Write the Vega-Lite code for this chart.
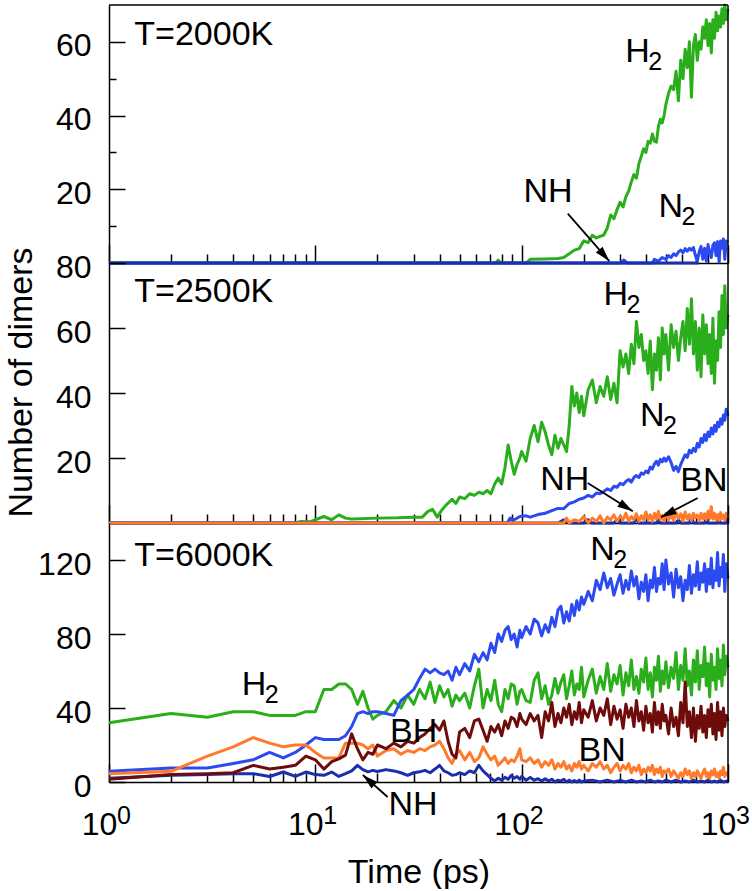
{
"$schema": "https://vega.github.io/schema/vega-lite/v6.json",
"background": "white",
"padding": {"left": 3, "top": 3, "right": 0, "bottom": 0},
"spacing": 0,
"bounds": "flush",
"resolve": {"scale": {"x": "independent", "y": "independent"}},
"config": {
  "font": "Liberation Sans",
  "view": {"stroke": null},
  "axis": {"grid": false, "domainColor": "black", "domainWidth": 1.5, "tickColor": "black", "tickWidth": 1.5, "labelColor": "black", "labelFont": "Liberation Sans", "labelFontSize": 32, "titleFont": "Liberation Sans", "titleFontSize": 34, "titleFontWeight": "normal", "titleColor": "black", "labelOverlap": false, "labelFlush": false, "labelBound": false},
  "text": {"font": "Liberation Sans"}
},
"datasets": {
"lines": [
{"p":1,"s":"H2","t":1,"v":0},{"p":1,"s":"H2","t":75,"v":0},{"p":1,"s":"H2","t":77,"v":0.8},{"p":1,"s":"H2","t":79,"v":0},{"p":1,"s":"H2","t":105,"v":0},{"p":1,"s":"H2","t":110,"v":1},{"p":1,"s":"H2","t":130,"v":1.1},{"p":1,"s":"H2","t":150,"v":1.2},{"p":1,"s":"H2","t":160,"v":1.5},{"p":1,"s":"H2","t":170,"v":2.5},{"p":1,"s":"H2","t":180,"v":3.5},{"p":1,"s":"H2","t":190,"v":3.9},{"p":1,"s":"H2","t":200,"v":6},{"p":1,"s":"H2","t":210,"v":5.5},{"p":1,"s":"H2","t":220,"v":7.5},{"p":1,"s":"H2","t":230,"v":6.8},{"p":1,"s":"H2","t":240,"v":7.2},{"p":1,"s":"H2","t":250,"v":7.6},{"p":1,"s":"H2","t":260,"v":9.5},{"p":1,"s":"H2","t":270,"v":13},{"p":1,"s":"H2","t":280,"v":12},{"p":1,"s":"H2","t":290,"v":14.5},{"p":1,"s":"H2","t":300,"v":16.5},{"p":1,"s":"H2","t":310,"v":15.2},{"p":1,"s":"H2","t":320,"v":18},{"p":1,"s":"H2","t":330,"v":19.5},{"p":1,"s":"H2","t":340,"v":22},{"p":1,"s":"H2","t":350,"v":24},{"p":1,"s":"H2","t":360,"v":23},{"p":1,"s":"H2","t":370,"v":27},{"p":1,"s":"H2","t":380,"v":29},{"p":1,"s":"H2","t":390,"v":31},{"p":1,"s":"H2","t":400,"v":30},{"p":1,"s":"H2","t":410,"v":33},{"p":1,"s":"H2","t":420,"v":32.5},{"p":1,"s":"H2","t":430,"v":35},{"p":1,"s":"H2","t":440,"v":33},{"p":1,"s":"H2","t":450,"v":32.8},{"p":1,"s":"H2","t":460,"v":37},{"p":1,"s":"H2","t":470,"v":39},{"p":1,"s":"H2","t":480,"v":38},{"p":1,"s":"H2","t":490,"v":40},{"p":1,"s":"H2","t":500,"v":43},{"p":1,"s":"H2","t":515,"v":46},{"p":1,"s":"H2","t":530,"v":48},{"p":1,"s":"H2","t":545,"v":47},{"p":1,"s":"H2","t":560,"v":52},{"p":1,"s":"H2","t":575,"v":44},{"p":1,"s":"H2","t":590,"v":55},{"p":1,"s":"H2","t":605,"v":50},{"p":1,"s":"H2","t":620,"v":58},{"p":1,"s":"H2","t":635,"v":53},{"p":1,"s":"H2","t":650,"v":60},{"p":1,"s":"H2","t":665,"v":45},{"p":1,"s":"H2","t":680,"v":59},{"p":1,"s":"H2","t":695,"v":62},{"p":1,"s":"H2","t":710,"v":55},{"p":1,"s":"H2","t":725,"v":60},{"p":1,"s":"H2","t":740,"v":58},{"p":1,"s":"H2","t":755,"v":64},{"p":1,"s":"H2","t":770,"v":61},{"p":1,"s":"H2","t":785,"v":66},{"p":1,"s":"H2","t":800,"v":59},{"p":1,"s":"H2","t":815,"v":65},{"p":1,"s":"H2","t":830,"v":57},{"p":1,"s":"H2","t":845,"v":66},{"p":1,"s":"H2","t":860,"v":61},{"p":1,"s":"H2","t":875,"v":68},{"p":1,"s":"H2","t":890,"v":63},{"p":1,"s":"H2","t":905,"v":67},{"p":1,"s":"H2","t":920,"v":64},{"p":1,"s":"H2","t":935,"v":69},{"p":1,"s":"H2","t":950,"v":65},{"p":1,"s":"H2","t":965,"v":70},{"p":1,"s":"H2","t":980,"v":66},{"p":1,"s":"H2","t":1000,"v":69},
{"p":1,"s":"N2","t":1,"v":0},{"p":1,"s":"N2","t":300,"v":0},{"p":1,"s":"N2","t":313,"v":0.8},{"p":1,"s":"N2","t":325,"v":0},{"p":1,"s":"N2","t":430,"v":0},{"p":1,"s":"N2","t":440,"v":1},{"p":1,"s":"N2","t":460,"v":0.5},{"p":1,"s":"N2","t":480,"v":1.5},{"p":1,"s":"N2","t":500,"v":1},{"p":1,"s":"N2","t":515,"v":2},{"p":1,"s":"N2","t":530,"v":1.5},{"p":1,"s":"N2","t":545,"v":2.5},{"p":1,"s":"N2","t":560,"v":2},{"p":1,"s":"N2","t":575,"v":3},{"p":1,"s":"N2","t":590,"v":3.5},{"p":1,"s":"N2","t":605,"v":2.8},{"p":1,"s":"N2","t":620,"v":3.9},{"p":1,"s":"N2","t":635,"v":3.2},{"p":1,"s":"N2","t":650,"v":4},{"p":1,"s":"N2","t":665,"v":3.5},{"p":1,"s":"N2","t":680,"v":4.2},{"p":1,"s":"N2","t":695,"v":2},{"p":1,"s":"N2","t":710,"v":0.5},{"p":1,"s":"N2","t":725,"v":3},{"p":1,"s":"N2","t":740,"v":4.5},{"p":1,"s":"N2","t":755,"v":1},{"p":1,"s":"N2","t":770,"v":4},{"p":1,"s":"N2","t":785,"v":0.5},{"p":1,"s":"N2","t":800,"v":5},{"p":1,"s":"N2","t":815,"v":3},{"p":1,"s":"N2","t":830,"v":1.5},{"p":1,"s":"N2","t":845,"v":4.8},{"p":1,"s":"N2","t":860,"v":5.5},{"p":1,"s":"N2","t":875,"v":2},{"p":1,"s":"N2","t":890,"v":5.8},{"p":1,"s":"N2","t":905,"v":0.3},{"p":1,"s":"N2","t":920,"v":6},{"p":1,"s":"N2","t":935,"v":4},{"p":1,"s":"N2","t":950,"v":6.5},{"p":1,"s":"N2","t":965,"v":1},{"p":1,"s":"N2","t":980,"v":6},{"p":1,"s":"N2","t":1000,"v":5.5},
{"p":1,"s":"NH","t":1,"v":0},{"p":1,"s":"NH","t":720,"v":0},
{"p":2,"s":"H2","t":1,"v":0},{"p":2,"s":"H2","t":8,"v":0},{"p":2,"s":"H2","t":8.5,"v":0.5},{"p":2,"s":"H2","t":9.5,"v":0.4},{"p":2,"s":"H2","t":10,"v":1},{"p":2,"s":"H2","t":11,"v":2},{"p":2,"s":"H2","t":12,"v":1},{"p":2,"s":"H2","t":13,"v":2.5},{"p":2,"s":"H2","t":14,"v":1.5},{"p":2,"s":"H2","t":15,"v":1.2},{"p":2,"s":"H2","t":20,"v":1.5},{"p":2,"s":"H2","t":25,"v":1.6},{"p":2,"s":"H2","t":30,"v":1.8},{"p":2,"s":"H2","t":33,"v":1.8},{"p":2,"s":"H2","t":35,"v":3.5},{"p":2,"s":"H2","t":37,"v":4.2},{"p":2,"s":"H2","t":39,"v":1.8},{"p":2,"s":"H2","t":41,"v":4},{"p":2,"s":"H2","t":43,"v":5.5},{"p":2,"s":"H2","t":46,"v":7.3},{"p":2,"s":"H2","t":48,"v":6},{"p":2,"s":"H2","t":50,"v":8},{"p":2,"s":"H2","t":53,"v":7.5},{"p":2,"s":"H2","t":56,"v":9},{"p":2,"s":"H2","t":59,"v":8.5},{"p":2,"s":"H2","t":62,"v":9.5},{"p":2,"s":"H2","t":65,"v":9},{"p":2,"s":"H2","t":68,"v":10},{"p":2,"s":"H2","t":71,"v":9},{"p":2,"s":"H2","t":74,"v":12},{"p":2,"s":"H2","t":77,"v":13.8},{"p":2,"s":"H2","t":80,"v":12},{"p":2,"s":"H2","t":83,"v":17},{"p":2,"s":"H2","t":86,"v":24},{"p":2,"s":"H2","t":89,"v":19},{"p":2,"s":"H2","t":92,"v":15},{"p":2,"s":"H2","t":95,"v":18},{"p":2,"s":"H2","t":98,"v":20},{"p":2,"s":"H2","t":100,"v":22},{"p":2,"s":"H2","t":105,"v":19},{"p":2,"s":"H2","t":110,"v":26},{"p":2,"s":"H2","t":115,"v":30},{"p":2,"s":"H2","t":120,"v":25},{"p":2,"s":"H2","t":125,"v":31},{"p":2,"s":"H2","t":130,"v":28},{"p":2,"s":"H2","t":135,"v":24},{"p":2,"s":"H2","t":140,"v":21},{"p":2,"s":"H2","t":145,"v":27},{"p":2,"s":"H2","t":150,"v":23},{"p":2,"s":"H2","t":155,"v":26},{"p":2,"s":"H2","t":160,"v":24},{"p":2,"s":"H2","t":165,"v":22},{"p":2,"s":"H2","t":170,"v":30},{"p":2,"s":"H2","t":175,"v":42},{"p":2,"s":"H2","t":180,"v":36},{"p":2,"s":"H2","t":185,"v":40},{"p":2,"s":"H2","t":190,"v":34},{"p":2,"s":"H2","t":195,"v":39},{"p":2,"s":"H2","t":200,"v":33},{"p":2,"s":"H2","t":210,"v":41},{"p":2,"s":"H2","t":220,"v":44},{"p":2,"s":"H2","t":230,"v":37},{"p":2,"s":"H2","t":240,"v":42},{"p":2,"s":"H2","t":250,"v":39},{"p":2,"s":"H2","t":260,"v":45},{"p":2,"s":"H2","t":270,"v":38},{"p":2,"s":"H2","t":280,"v":43},{"p":2,"s":"H2","t":290,"v":37},{"p":2,"s":"H2","t":300,"v":53},{"p":2,"s":"H2","t":310,"v":48},{"p":2,"s":"H2","t":320,"v":52},{"p":2,"s":"H2","t":330,"v":46},{"p":2,"s":"H2","t":340,"v":55},{"p":2,"s":"H2","t":350,"v":49},{"p":2,"s":"H2","t":360,"v":62},{"p":2,"s":"H2","t":370,"v":54},{"p":2,"s":"H2","t":380,"v":58},{"p":2,"s":"H2","t":390,"v":50},{"p":2,"s":"H2","t":400,"v":53},{"p":2,"s":"H2","t":410,"v":46},{"p":2,"s":"H2","t":420,"v":56},{"p":2,"s":"H2","t":430,"v":41},{"p":2,"s":"H2","t":440,"v":52},{"p":2,"s":"H2","t":450,"v":47},{"p":2,"s":"H2","t":460,"v":57},{"p":2,"s":"H2","t":470,"v":44},{"p":2,"s":"H2","t":480,"v":60},{"p":2,"s":"H2","t":490,"v":52},{"p":2,"s":"H2","t":500,"v":58},{"p":2,"s":"H2","t":515,"v":47},{"p":2,"s":"H2","t":530,"v":61},{"p":2,"s":"H2","t":545,"v":54},{"p":2,"s":"H2","t":560,"v":59},{"p":2,"s":"H2","t":575,"v":50},{"p":2,"s":"H2","t":590,"v":57},{"p":2,"s":"H2","t":605,"v":62},{"p":2,"s":"H2","t":620,"v":53},{"p":2,"s":"H2","t":635,"v":66},{"p":2,"s":"H2","t":650,"v":55},{"p":2,"s":"H2","t":665,"v":69},{"p":2,"s":"H2","t":680,"v":52},{"p":2,"s":"H2","t":695,"v":62},{"p":2,"s":"H2","t":710,"v":47},{"p":2,"s":"H2","t":725,"v":60},{"p":2,"s":"H2","t":740,"v":45},{"p":2,"s":"H2","t":755,"v":64},{"p":2,"s":"H2","t":770,"v":52},{"p":2,"s":"H2","t":785,"v":61},{"p":2,"s":"H2","t":800,"v":49},{"p":2,"s":"H2","t":815,"v":58},{"p":2,"s":"H2","t":830,"v":46},{"p":2,"s":"H2","t":845,"v":63},{"p":2,"s":"H2","t":860,"v":43},{"p":2,"s":"H2","t":875,"v":56},{"p":2,"s":"H2","t":890,"v":50},{"p":2,"s":"H2","t":905,"v":65},{"p":2,"s":"H2","t":920,"v":54},{"p":2,"s":"H2","t":935,"v":70},{"p":2,"s":"H2","t":950,"v":58},{"p":2,"s":"H2","t":965,"v":73},{"p":2,"s":"H2","t":980,"v":60},{"p":2,"s":"H2","t":1000,"v":64},
{"p":2,"s":"N2","t":1,"v":0},{"p":2,"s":"N2","t":85,"v":0},{"p":2,"s":"N2","t":88,"v":1.5},{"p":2,"s":"N2","t":92,"v":1},{"p":2,"s":"N2","t":98,"v":2},{"p":2,"s":"N2","t":105,"v":2.2},{"p":2,"s":"N2","t":110,"v":1.8},{"p":2,"s":"N2","t":120,"v":2.6},{"p":2,"s":"N2","t":130,"v":3},{"p":2,"s":"N2","t":140,"v":3.8},{"p":2,"s":"N2","t":150,"v":4.5},{"p":2,"s":"N2","t":160,"v":4.4},{"p":2,"s":"N2","t":170,"v":6},{"p":2,"s":"N2","t":180,"v":6.5},{"p":2,"s":"N2","t":190,"v":7.3},{"p":2,"s":"N2","t":200,"v":7.7},{"p":2,"s":"N2","t":210,"v":8.5},{"p":2,"s":"N2","t":220,"v":8},{"p":2,"s":"N2","t":230,"v":9.2},{"p":2,"s":"N2","t":240,"v":9},{"p":2,"s":"N2","t":250,"v":9.7},{"p":2,"s":"N2","t":260,"v":10.5},{"p":2,"s":"N2","t":270,"v":10},{"p":2,"s":"N2","t":280,"v":11.3},{"p":2,"s":"N2","t":290,"v":11},{"p":2,"s":"N2","t":300,"v":12.2},{"p":2,"s":"N2","t":310,"v":11.8},{"p":2,"s":"N2","t":320,"v":12.8},{"p":2,"s":"N2","t":330,"v":13.4},{"p":2,"s":"N2","t":340,"v":12.6},{"p":2,"s":"N2","t":350,"v":14},{"p":2,"s":"N2","t":360,"v":14.6},{"p":2,"s":"N2","t":370,"v":14},{"p":2,"s":"N2","t":380,"v":15.4},{"p":2,"s":"N2","t":390,"v":15},{"p":2,"s":"N2","t":400,"v":16},{"p":2,"s":"N2","t":410,"v":15.4},{"p":2,"s":"N2","t":420,"v":17.2},{"p":2,"s":"N2","t":430,"v":16.6},{"p":2,"s":"N2","t":440,"v":18.2},{"p":2,"s":"N2","t":450,"v":19},{"p":2,"s":"N2","t":460,"v":17.8},{"p":2,"s":"N2","t":470,"v":19.6},{"p":2,"s":"N2","t":480,"v":18.8},{"p":2,"s":"N2","t":490,"v":20},{"p":2,"s":"N2","t":500,"v":19},{"p":2,"s":"N2","t":515,"v":20.4},{"p":2,"s":"N2","t":530,"v":18.6},{"p":2,"s":"N2","t":545,"v":16.2},{"p":2,"s":"N2","t":560,"v":17.4},{"p":2,"s":"N2","t":575,"v":15.8},{"p":2,"s":"N2","t":590,"v":18},{"p":2,"s":"N2","t":605,"v":19.6},{"p":2,"s":"N2","t":620,"v":21},{"p":2,"s":"N2","t":635,"v":20.2},{"p":2,"s":"N2","t":650,"v":22.4},{"p":2,"s":"N2","t":665,"v":21.6},{"p":2,"s":"N2","t":680,"v":23},{"p":2,"s":"N2","t":695,"v":22},{"p":2,"s":"N2","t":710,"v":24.5},{"p":2,"s":"N2","t":725,"v":23.4},{"p":2,"s":"N2","t":740,"v":26},{"p":2,"s":"N2","t":755,"v":24.8},{"p":2,"s":"N2","t":770,"v":27.2},{"p":2,"s":"N2","t":785,"v":25.4},{"p":2,"s":"N2","t":800,"v":28},{"p":2,"s":"N2","t":815,"v":26.6},{"p":2,"s":"N2","t":830,"v":29.2},{"p":2,"s":"N2","t":845,"v":27.4},{"p":2,"s":"N2","t":860,"v":30},{"p":2,"s":"N2","t":875,"v":28.2},{"p":2,"s":"N2","t":890,"v":31},{"p":2,"s":"N2","t":905,"v":29.6},{"p":2,"s":"N2","t":920,"v":32},{"p":2,"s":"N2","t":935,"v":30.4},{"p":2,"s":"N2","t":950,"v":33.2},{"p":2,"s":"N2","t":965,"v":31.6},{"p":2,"s":"N2","t":980,"v":35},{"p":2,"s":"N2","t":1000,"v":33},
{"p":2,"s":"NH","t":1,"v":0},{"p":2,"s":"NH","t":150,"v":0},{"p":2,"s":"NH","t":160,"v":1},{"p":2,"s":"NH","t":170,"v":0},{"p":2,"s":"NH","t":200,"v":0},{"p":2,"s":"NH","t":210,"v":1},{"p":2,"s":"NH","t":220,"v":0},{"p":2,"s":"NH","t":280,"v":0},{"p":2,"s":"NH","t":290,"v":1},{"p":2,"s":"NH","t":300,"v":0},{"p":2,"s":"NH","t":350,"v":0},{"p":2,"s":"NH","t":360,"v":1.5},{"p":2,"s":"NH","t":370,"v":0},{"p":2,"s":"NH","t":450,"v":0},{"p":2,"s":"NH","t":460,"v":1},{"p":2,"s":"NH","t":470,"v":0},{"p":2,"s":"NH","t":560,"v":0},{"p":2,"s":"NH","t":575,"v":1},{"p":2,"s":"NH","t":590,"v":0},{"p":2,"s":"NH","t":650,"v":0},{"p":2,"s":"NH","t":665,"v":2},{"p":2,"s":"NH","t":680,"v":0},{"p":2,"s":"NH","t":770,"v":0},{"p":2,"s":"NH","t":785,"v":1.5},{"p":2,"s":"NH","t":800,"v":0},{"p":2,"s":"NH","t":890,"v":0},{"p":2,"s":"NH","t":905,"v":1},{"p":2,"s":"NH","t":920,"v":0},{"p":2,"s":"NH","t":980,"v":0},{"p":2,"s":"NH","t":1000,"v":2},
{"p":2,"s":"BN","t":1,"v":0},{"p":2,"s":"BN","t":160,"v":0},{"p":2,"s":"BN","t":165,"v":1.5},{"p":2,"s":"BN","t":170,"v":0},{"p":2,"s":"BN","t":180,"v":1},{"p":2,"s":"BN","t":190,"v":0.5},{"p":2,"s":"BN","t":200,"v":2},{"p":2,"s":"BN","t":210,"v":0},{"p":2,"s":"BN","t":220,"v":1.5},{"p":2,"s":"BN","t":230,"v":0.5},{"p":2,"s":"BN","t":240,"v":2.2},{"p":2,"s":"BN","t":250,"v":0},{"p":2,"s":"BN","t":260,"v":1.8},{"p":2,"s":"BN","t":270,"v":1},{"p":2,"s":"BN","t":280,"v":2.5},{"p":2,"s":"BN","t":290,"v":0.5},{"p":2,"s":"BN","t":300,"v":2},{"p":2,"s":"BN","t":310,"v":1},{"p":2,"s":"BN","t":320,"v":3},{"p":2,"s":"BN","t":330,"v":0.5},{"p":2,"s":"BN","t":340,"v":2},{"p":2,"s":"BN","t":350,"v":1},{"p":2,"s":"BN","t":360,"v":2.8},{"p":2,"s":"BN","t":370,"v":0.5},{"p":2,"s":"BN","t":380,"v":2.2},{"p":2,"s":"BN","t":390,"v":1},{"p":2,"s":"BN","t":400,"v":3.4},{"p":2,"s":"BN","t":410,"v":1},{"p":2,"s":"BN","t":420,"v":2.5},{"p":2,"s":"BN","t":430,"v":0.5},{"p":2,"s":"BN","t":440,"v":3},{"p":2,"s":"BN","t":450,"v":1.2},{"p":2,"s":"BN","t":460,"v":3.6},{"p":2,"s":"BN","t":470,"v":1},{"p":2,"s":"BN","t":480,"v":2.4},{"p":2,"s":"BN","t":490,"v":0.6},{"p":2,"s":"BN","t":500,"v":3},{"p":2,"s":"BN","t":515,"v":1},{"p":2,"s":"BN","t":530,"v":2.6},{"p":2,"s":"BN","t":545,"v":0.8},{"p":2,"s":"BN","t":560,"v":3.2},{"p":2,"s":"BN","t":575,"v":1.4},{"p":2,"s":"BN","t":590,"v":2.8},{"p":2,"s":"BN","t":605,"v":0.6},{"p":2,"s":"BN","t":620,"v":3.4},{"p":2,"s":"BN","t":635,"v":1.2},{"p":2,"s":"BN","t":650,"v":2.6},{"p":2,"s":"BN","t":665,"v":0.8},{"p":2,"s":"BN","t":680,"v":3},{"p":2,"s":"BN","t":695,"v":1.6},{"p":2,"s":"BN","t":710,"v":2.4},{"p":2,"s":"BN","t":725,"v":0.6},{"p":2,"s":"BN","t":740,"v":3},{"p":2,"s":"BN","t":755,"v":1.2},{"p":2,"s":"BN","t":770,"v":2.8},{"p":2,"s":"BN","t":785,"v":1},{"p":2,"s":"BN","t":800,"v":3.6},{"p":2,"s":"BN","t":815,"v":1.4},{"p":2,"s":"BN","t":830,"v":5},{"p":2,"s":"BN","t":845,"v":1.2},{"p":2,"s":"BN","t":860,"v":3},{"p":2,"s":"BN","t":875,"v":1},{"p":2,"s":"BN","t":890,"v":2.6},{"p":2,"s":"BN","t":905,"v":0.8},{"p":2,"s":"BN","t":920,"v":3.2},{"p":2,"s":"BN","t":935,"v":1.4},{"p":2,"s":"BN","t":950,"v":2.4},{"p":2,"s":"BN","t":965,"v":0.8},{"p":2,"s":"BN","t":980,"v":3},{"p":2,"s":"BN","t":1000,"v":1.6},
{"p":3,"s":"H2","t":1,"v":32},{"p":3,"s":"H2","t":2,"v":37},{"p":3,"s":"H2","t":3,"v":35},{"p":3,"s":"H2","t":4,"v":38},{"p":3,"s":"H2","t":5,"v":38},{"p":3,"s":"H2","t":6,"v":36},{"p":3,"s":"H2","t":7,"v":36},{"p":3,"s":"H2","t":8,"v":36},{"p":3,"s":"H2","t":9,"v":38},{"p":3,"s":"H2","t":10,"v":38},{"p":3,"s":"H2","t":11,"v":50},{"p":3,"s":"H2","t":12,"v":50},{"p":3,"s":"H2","t":13,"v":53},{"p":3,"s":"H2","t":14,"v":53},{"p":3,"s":"H2","t":15,"v":50},{"p":3,"s":"H2","t":16,"v":42},{"p":3,"s":"H2","t":17,"v":49},{"p":3,"s":"H2","t":18,"v":40},{"p":3,"s":"H2","t":19,"v":34},{"p":3,"s":"H2","t":20,"v":36},
{"p":3,"s":"H2","t":22,"v":38},{"p":3,"s":"H2","t":24,"v":44},{"p":3,"s":"H2","t":26,"v":40},{"p":3,"s":"H2","t":28,"v":47},{"p":3,"s":"H2","t":30,"v":42},{"p":3,"s":"H2","t":32,"v":50},{"p":3,"s":"H2","t":34,"v":45},{"p":3,"s":"H2","t":36,"v":54},{"p":3,"s":"H2","t":38,"v":43},{"p":3,"s":"H2","t":40,"v":52},{"p":3,"s":"H2","t":42,"v":46},{"p":3,"s":"H2","t":44,"v":50},{"p":3,"s":"H2","t":46,"v":41},{"p":3,"s":"H2","t":48,"v":47},{"p":3,"s":"H2","t":50,"v":44},
{"p":3,"s":"H2","t":53,"v":48},{"p":3,"s":"H2","t":56,"v":40},{"p":3,"s":"H2","t":59,"v":52},{"p":3,"s":"H2","t":62,"v":61},{"p":3,"s":"H2","t":65,"v":40},{"p":3,"s":"H2","t":68,"v":50},{"p":3,"s":"H2","t":71,"v":44},{"p":3,"s":"H2","t":74,"v":55},{"p":3,"s":"H2","t":77,"v":42},{"p":3,"s":"H2","t":80,"v":38},{"p":3,"s":"H2","t":83,"v":50},{"p":3,"s":"H2","t":86,"v":45},{"p":3,"s":"H2","t":89,"v":53},{"p":3,"s":"H2","t":92,"v":52},{"p":3,"s":"H2","t":95,"v":42},{"p":3,"s":"H2","t":98,"v":49},
{"p":3,"s":"H2","t":100,"v":50},{"p":3,"s":"H2","t":105,"v":44},{"p":3,"s":"H2","t":110,"v":43},{"p":3,"s":"H2","t":115,"v":55},{"p":3,"s":"H2","t":120,"v":59},{"p":3,"s":"H2","t":125,"v":45},{"p":3,"s":"H2","t":130,"v":52},{"p":3,"s":"H2","t":135,"v":42},{"p":3,"s":"H2","t":140,"v":47},{"p":3,"s":"H2","t":145,"v":56},{"p":3,"s":"H2","t":150,"v":48},{"p":3,"s":"H2","t":155,"v":54},{"p":3,"s":"H2","t":160,"v":58},{"p":3,"s":"H2","t":165,"v":45},{"p":3,"s":"H2","t":170,"v":52},{"p":3,"s":"H2","t":175,"v":60},{"p":3,"s":"H2","t":180,"v":47},{"p":3,"s":"H2","t":185,"v":53},{"p":3,"s":"H2","t":190,"v":50},{"p":3,"s":"H2","t":195,"v":62},{"p":3,"s":"H2","t":200,"v":46},
{"p":3,"s":"H2","t":210,"v":55},{"p":3,"s":"H2","t":220,"v":61},{"p":3,"s":"H2","t":230,"v":48},{"p":3,"s":"H2","t":240,"v":57},{"p":3,"s":"H2","t":250,"v":50},{"p":3,"s":"H2","t":260,"v":64},{"p":3,"s":"H2","t":270,"v":49},{"p":3,"s":"H2","t":280,"v":58},{"p":3,"s":"H2","t":290,"v":53},{"p":3,"s":"H2","t":300,"v":63},{"p":3,"s":"H2","t":310,"v":47},{"p":3,"s":"H2","t":320,"v":59},{"p":3,"s":"H2","t":330,"v":52},{"p":3,"s":"H2","t":340,"v":66},{"p":3,"s":"H2","t":350,"v":50},{"p":3,"s":"H2","t":360,"v":57},{"p":3,"s":"H2","t":370,"v":48},{"p":3,"s":"H2","t":380,"v":61},{"p":3,"s":"H2","t":390,"v":54},{"p":3,"s":"H2","t":400,"v":67},{"p":3,"s":"H2","t":410,"v":50},{"p":3,"s":"H2","t":420,"v":59},{"p":3,"s":"H2","t":430,"v":46},{"p":3,"s":"H2","t":440,"v":62},{"p":3,"s":"H2","t":450,"v":55},{"p":3,"s":"H2","t":460,"v":68},{"p":3,"s":"H2","t":470,"v":49},{"p":3,"s":"H2","t":480,"v":60},{"p":3,"s":"H2","t":490,"v":53},{"p":3,"s":"H2","t":500,"v":65},
{"p":3,"s":"H2","t":515,"v":51},{"p":3,"s":"H2","t":530,"v":62},{"p":3,"s":"H2","t":545,"v":56},{"p":3,"s":"H2","t":560,"v":70},{"p":3,"s":"H2","t":575,"v":50},{"p":3,"s":"H2","t":590,"v":63},{"p":3,"s":"H2","t":605,"v":55},{"p":3,"s":"H2","t":620,"v":72},{"p":3,"s":"H2","t":635,"v":52},{"p":3,"s":"H2","t":650,"v":60},{"p":3,"s":"H2","t":665,"v":47},{"p":3,"s":"H2","t":680,"v":66},{"p":3,"s":"H2","t":695,"v":54},{"p":3,"s":"H2","t":710,"v":71},{"p":3,"s":"H2","t":725,"v":50},{"p":3,"s":"H2","t":740,"v":63},{"p":3,"s":"H2","t":755,"v":57},{"p":3,"s":"H2","t":770,"v":73},{"p":3,"s":"H2","t":785,"v":52},{"p":3,"s":"H2","t":800,"v":64},{"p":3,"s":"H2","t":815,"v":46},{"p":3,"s":"H2","t":830,"v":69},{"p":3,"s":"H2","t":845,"v":55},{"p":3,"s":"H2","t":860,"v":62},{"p":3,"s":"H2","t":875,"v":50},{"p":3,"s":"H2","t":890,"v":72},{"p":3,"s":"H2","t":905,"v":56},{"p":3,"s":"H2","t":920,"v":66},{"p":3,"s":"H2","t":935,"v":52},{"p":3,"s":"H2","t":950,"v":74},{"p":3,"s":"H2","t":965,"v":58},{"p":3,"s":"H2","t":980,"v":68},{"p":3,"s":"H2","t":1000,"v":62},
{"p":3,"s":"N2","t":1,"v":5.8},{"p":3,"s":"N2","t":2,"v":7.6},{"p":3,"s":"N2","t":3,"v":7.6},{"p":3,"s":"N2","t":4,"v":10},{"p":3,"s":"N2","t":5,"v":12},{"p":3,"s":"N2","t":6,"v":16},{"p":3,"s":"N2","t":7,"v":13},{"p":3,"s":"N2","t":8,"v":16},{"p":3,"s":"N2","t":9,"v":20},{"p":3,"s":"N2","t":10,"v":24},{"p":3,"s":"N2","t":11,"v":23},{"p":3,"s":"N2","t":12,"v":23},{"p":3,"s":"N2","t":13,"v":23},{"p":3,"s":"N2","t":14,"v":25},{"p":3,"s":"N2","t":15,"v":30},{"p":3,"s":"N2","t":16,"v":37},{"p":3,"s":"N2","t":17,"v":38},{"p":3,"s":"N2","t":18,"v":37},{"p":3,"s":"N2","t":19,"v":38},{"p":3,"s":"N2","t":20,"v":38},
{"p":3,"s":"N2","t":22,"v":37},{"p":3,"s":"N2","t":24,"v":36},{"p":3,"s":"N2","t":26,"v":44},{"p":3,"s":"N2","t":28,"v":47},{"p":3,"s":"N2","t":30,"v":50},{"p":3,"s":"N2","t":32,"v":56},{"p":3,"s":"N2","t":34,"v":61},{"p":3,"s":"N2","t":36,"v":59},{"p":3,"s":"N2","t":38,"v":61},{"p":3,"s":"N2","t":40,"v":59},{"p":3,"s":"N2","t":42,"v":58},{"p":3,"s":"N2","t":44,"v":60},{"p":3,"s":"N2","t":46,"v":55},{"p":3,"s":"N2","t":48,"v":62},{"p":3,"s":"N2","t":50,"v":58},
{"p":3,"s":"N2","t":53,"v":64},{"p":3,"s":"N2","t":56,"v":60},{"p":3,"s":"N2","t":59,"v":69},{"p":3,"s":"N2","t":62,"v":65},{"p":3,"s":"N2","t":65,"v":70},{"p":3,"s":"N2","t":68,"v":66},{"p":3,"s":"N2","t":71,"v":75},{"p":3,"s":"N2","t":74,"v":70},{"p":3,"s":"N2","t":77,"v":80},{"p":3,"s":"N2","t":80,"v":76},{"p":3,"s":"N2","t":83,"v":82},{"p":3,"s":"N2","t":86,"v":84},{"p":3,"s":"N2","t":89,"v":77},{"p":3,"s":"N2","t":92,"v":80},{"p":3,"s":"N2","t":95,"v":73},{"p":3,"s":"N2","t":98,"v":82},
{"p":3,"s":"N2","t":100,"v":78},{"p":3,"s":"N2","t":105,"v":84},{"p":3,"s":"N2","t":110,"v":80},{"p":3,"s":"N2","t":115,"v":88},{"p":3,"s":"N2","t":120,"v":86},{"p":3,"s":"N2","t":125,"v":79},{"p":3,"s":"N2","t":130,"v":85},{"p":3,"s":"N2","t":135,"v":81},{"p":3,"s":"N2","t":140,"v":89},{"p":3,"s":"N2","t":145,"v":84},{"p":3,"s":"N2","t":150,"v":93},{"p":3,"s":"N2","t":155,"v":95},{"p":3,"s":"N2","t":160,"v":86},{"p":3,"s":"N2","t":165,"v":92},{"p":3,"s":"N2","t":170,"v":87},{"p":3,"s":"N2","t":175,"v":96},{"p":3,"s":"N2","t":180,"v":90},{"p":3,"s":"N2","t":185,"v":98},{"p":3,"s":"N2","t":190,"v":93},{"p":3,"s":"N2","t":195,"v":100},{"p":3,"s":"N2","t":200,"v":96},
{"p":3,"s":"N2","t":210,"v":103},{"p":3,"s":"N2","t":220,"v":98},{"p":3,"s":"N2","t":230,"v":109},{"p":3,"s":"N2","t":240,"v":104},{"p":3,"s":"N2","t":250,"v":113},{"p":3,"s":"N2","t":260,"v":105},{"p":3,"s":"N2","t":270,"v":110},{"p":3,"s":"N2","t":280,"v":101},{"p":3,"s":"N2","t":290,"v":107},{"p":3,"s":"N2","t":300,"v":112},{"p":3,"s":"N2","t":310,"v":102},{"p":3,"s":"N2","t":320,"v":109},{"p":3,"s":"N2","t":330,"v":104},{"p":3,"s":"N2","t":340,"v":114},{"p":3,"s":"N2","t":350,"v":106},{"p":3,"s":"N2","t":360,"v":111},{"p":3,"s":"N2","t":370,"v":99},{"p":3,"s":"N2","t":380,"v":108},{"p":3,"s":"N2","t":390,"v":103},{"p":3,"s":"N2","t":400,"v":112},{"p":3,"s":"N2","t":410,"v":98},{"p":3,"s":"N2","t":420,"v":109},{"p":3,"s":"N2","t":430,"v":105},{"p":3,"s":"N2","t":440,"v":116},{"p":3,"s":"N2","t":450,"v":103},{"p":3,"s":"N2","t":460,"v":110},{"p":3,"s":"N2","t":470,"v":107},{"p":3,"s":"N2","t":480,"v":118},{"p":3,"s":"N2","t":490,"v":104},{"p":3,"s":"N2","t":500,"v":120},
{"p":3,"s":"N2","t":515,"v":107},{"p":3,"s":"N2","t":530,"v":113},{"p":3,"s":"N2","t":545,"v":100},{"p":3,"s":"N2","t":560,"v":115},{"p":3,"s":"N2","t":575,"v":105},{"p":3,"s":"N2","t":590,"v":111},{"p":3,"s":"N2","t":605,"v":98},{"p":3,"s":"N2","t":620,"v":109},{"p":3,"s":"N2","t":635,"v":104},{"p":3,"s":"N2","t":650,"v":117},{"p":3,"s":"N2","t":665,"v":102},{"p":3,"s":"N2","t":680,"v":112},{"p":3,"s":"N2","t":695,"v":106},{"p":3,"s":"N2","t":710,"v":119},{"p":3,"s":"N2","t":725,"v":104},{"p":3,"s":"N2","t":740,"v":113},{"p":3,"s":"N2","t":755,"v":108},{"p":3,"s":"N2","t":770,"v":118},{"p":3,"s":"N2","t":785,"v":103},{"p":3,"s":"N2","t":800,"v":115},{"p":3,"s":"N2","t":815,"v":107},{"p":3,"s":"N2","t":830,"v":121},{"p":3,"s":"N2","t":845,"v":105},{"p":3,"s":"N2","t":860,"v":114},{"p":3,"s":"N2","t":875,"v":109},{"p":3,"s":"N2","t":890,"v":124},{"p":3,"s":"N2","t":905,"v":106},{"p":3,"s":"N2","t":920,"v":116},{"p":3,"s":"N2","t":935,"v":111},{"p":3,"s":"N2","t":950,"v":123},{"p":3,"s":"N2","t":965,"v":103},{"p":3,"s":"N2","t":980,"v":118},{"p":3,"s":"N2","t":1000,"v":110},
{"p":3,"s":"NH","t":1,"v":2},{"p":3,"s":"NH","t":2,"v":3.6},{"p":3,"s":"NH","t":3,"v":4},{"p":3,"s":"NH","t":4,"v":4.5},{"p":3,"s":"NH","t":5,"v":4.5},{"p":3,"s":"NH","t":6,"v":3},{"p":3,"s":"NH","t":7,"v":5.4},{"p":3,"s":"NH","t":8,"v":3},{"p":3,"s":"NH","t":9,"v":5.4},{"p":3,"s":"NH","t":10,"v":4},{"p":3,"s":"NH","t":11,"v":3.6},{"p":3,"s":"NH","t":12,"v":5.4},{"p":3,"s":"NH","t":13,"v":3},{"p":3,"s":"NH","t":14,"v":4.5},{"p":3,"s":"NH","t":15,"v":6},{"p":3,"s":"NH","t":16,"v":9},{"p":3,"s":"NH","t":17,"v":6.7},{"p":3,"s":"NH","t":18,"v":5.5},{"p":3,"s":"NH","t":19,"v":6.3},{"p":3,"s":"NH","t":20,"v":5.7},
{"p":3,"s":"NH","t":22,"v":6.7},{"p":3,"s":"NH","t":24,"v":6},{"p":3,"s":"NH","t":26,"v":5},{"p":3,"s":"NH","t":28,"v":3.6},{"p":3,"s":"NH","t":30,"v":5},{"p":3,"s":"NH","t":32,"v":5.5},{"p":3,"s":"NH","t":34,"v":6.3},{"p":3,"s":"NH","t":36,"v":5},{"p":3,"s":"NH","t":38,"v":7},{"p":3,"s":"NH","t":40,"v":9},{"p":3,"s":"NH","t":42,"v":6},{"p":3,"s":"NH","t":44,"v":5},{"p":3,"s":"NH","t":46,"v":3.6},{"p":3,"s":"NH","t":48,"v":4},{"p":3,"s":"NH","t":50,"v":5},
{"p":3,"s":"NH","t":53,"v":4},{"p":3,"s":"NH","t":56,"v":6},{"p":3,"s":"NH","t":59,"v":5},{"p":3,"s":"NH","t":62,"v":9},{"p":3,"s":"NH","t":65,"v":6},{"p":3,"s":"NH","t":68,"v":4},{"p":3,"s":"NH","t":71,"v":2},{"p":3,"s":"NH","t":74,"v":0.6},{"p":3,"s":"NH","t":77,"v":2},{"p":3,"s":"NH","t":80,"v":1},{"p":3,"s":"NH","t":83,"v":2.5},{"p":3,"s":"NH","t":86,"v":1.5},{"p":3,"s":"NH","t":89,"v":3.6},{"p":3,"s":"NH","t":92,"v":2},{"p":3,"s":"NH","t":95,"v":3},{"p":3,"s":"NH","t":98,"v":1.5},
{"p":3,"s":"NH","t":100,"v":3},{"p":3,"s":"NH","t":105,"v":1},{"p":3,"s":"NH","t":110,"v":2.5},{"p":3,"s":"NH","t":115,"v":1},{"p":3,"s":"NH","t":120,"v":1.8},{"p":3,"s":"NH","t":125,"v":0.5},{"p":3,"s":"NH","t":130,"v":1.8},{"p":3,"s":"NH","t":135,"v":0.5},{"p":3,"s":"NH","t":140,"v":1.5},{"p":3,"s":"NH","t":145,"v":0},{"p":3,"s":"NH","t":150,"v":1},{"p":3,"s":"NH","t":155,"v":0.5},{"p":3,"s":"NH","t":160,"v":1.5},{"p":3,"s":"NH","t":165,"v":0},{"p":3,"s":"NH","t":170,"v":1},{"p":3,"s":"NH","t":175,"v":0},{"p":3,"s":"NH","t":180,"v":0.8},{"p":3,"s":"NH","t":185,"v":0},{"p":3,"s":"NH","t":190,"v":1},{"p":3,"s":"NH","t":195,"v":0},{"p":3,"s":"NH","t":200,"v":0.5},
{"p":3,"s":"NH","t":220,"v":1},{"p":3,"s":"NH","t":240,"v":0},{"p":3,"s":"NH","t":260,"v":1},{"p":3,"s":"NH","t":280,"v":0},{"p":3,"s":"NH","t":300,"v":0.8},{"p":3,"s":"NH","t":320,"v":0},{"p":3,"s":"NH","t":340,"v":1},{"p":3,"s":"NH","t":360,"v":0},{"p":3,"s":"NH","t":380,"v":0.5},{"p":3,"s":"NH","t":400,"v":0},{"p":3,"s":"NH","t":420,"v":1},{"p":3,"s":"NH","t":440,"v":0},{"p":3,"s":"NH","t":460,"v":0.5},{"p":3,"s":"NH","t":480,"v":0},{"p":3,"s":"NH","t":500,"v":1},
{"p":3,"s":"NH","t":530,"v":0},{"p":3,"s":"NH","t":560,"v":1},{"p":3,"s":"NH","t":590,"v":0},{"p":3,"s":"NH","t":620,"v":0.5},{"p":3,"s":"NH","t":650,"v":0},{"p":3,"s":"NH","t":680,"v":1},{"p":3,"s":"NH","t":710,"v":0},{"p":3,"s":"NH","t":740,"v":0.5},{"p":3,"s":"NH","t":770,"v":0},{"p":3,"s":"NH","t":800,"v":1},{"p":3,"s":"NH","t":830,"v":0},{"p":3,"s":"NH","t":860,"v":0.5},{"p":3,"s":"NH","t":890,"v":0},{"p":3,"s":"NH","t":920,"v":1},{"p":3,"s":"NH","t":950,"v":0},{"p":3,"s":"NH","t":980,"v":0.5},{"p":3,"s":"NH","t":1000,"v":0},
{"p":3,"s":"BN","t":1,"v":4.5},{"p":3,"s":"BN","t":2,"v":5.8},{"p":3,"s":"BN","t":3,"v":14},{"p":3,"s":"BN","t":4,"v":19},{"p":3,"s":"BN","t":5,"v":24},{"p":3,"s":"BN","t":6,"v":21},{"p":3,"s":"BN","t":7,"v":19},{"p":3,"s":"BN","t":8,"v":20},{"p":3,"s":"BN","t":9,"v":20},{"p":3,"s":"BN","t":10,"v":16},{"p":3,"s":"BN","t":11,"v":13},{"p":3,"s":"BN","t":12,"v":13},{"p":3,"s":"BN","t":13,"v":13},{"p":3,"s":"BN","t":14,"v":21},{"p":3,"s":"BN","t":15,"v":21},{"p":3,"s":"BN","t":16,"v":21},{"p":3,"s":"BN","t":17,"v":20},{"p":3,"s":"BN","t":18,"v":18},{"p":3,"s":"BN","t":19,"v":20},{"p":3,"s":"BN","t":20,"v":14},
{"p":3,"s":"BN","t":22,"v":17},{"p":3,"s":"BN","t":24,"v":18},{"p":3,"s":"BN","t":26,"v":15},{"p":3,"s":"BN","t":28,"v":17},{"p":3,"s":"BN","t":30,"v":16},{"p":3,"s":"BN","t":32,"v":18},{"p":3,"s":"BN","t":34,"v":17},{"p":3,"s":"BN","t":36,"v":19},{"p":3,"s":"BN","t":38,"v":20},{"p":3,"s":"BN","t":40,"v":22},{"p":3,"s":"BN","t":42,"v":18},{"p":3,"s":"BN","t":44,"v":13},{"p":3,"s":"BN","t":46,"v":10},{"p":3,"s":"BN","t":48,"v":15},{"p":3,"s":"BN","t":50,"v":17},
{"p":3,"s":"BN","t":53,"v":12},{"p":3,"s":"BN","t":56,"v":16},{"p":3,"s":"BN","t":59,"v":11},{"p":3,"s":"BN","t":62,"v":13},{"p":3,"s":"BN","t":65,"v":19},{"p":3,"s":"BN","t":68,"v":15},{"p":3,"s":"BN","t":71,"v":12},{"p":3,"s":"BN","t":74,"v":14},{"p":3,"s":"BN","t":77,"v":9},{"p":3,"s":"BN","t":80,"v":11},{"p":3,"s":"BN","t":83,"v":13},{"p":3,"s":"BN","t":86,"v":10},{"p":3,"s":"BN","t":89,"v":12},{"p":3,"s":"BN","t":92,"v":11},{"p":3,"s":"BN","t":95,"v":14},{"p":3,"s":"BN","t":98,"v":18},
{"p":3,"s":"BN","t":100,"v":12},{"p":3,"s":"BN","t":105,"v":11},{"p":3,"s":"BN","t":110,"v":13},{"p":3,"s":"BN","t":115,"v":10},{"p":3,"s":"BN","t":120,"v":12},{"p":3,"s":"BN","t":125,"v":8},{"p":3,"s":"BN","t":130,"v":11},{"p":3,"s":"BN","t":135,"v":9},{"p":3,"s":"BN","t":140,"v":12},{"p":3,"s":"BN","t":145,"v":7},{"p":3,"s":"BN","t":150,"v":10},{"p":3,"s":"BN","t":155,"v":8},{"p":3,"s":"BN","t":160,"v":11},{"p":3,"s":"BN","t":165,"v":7},{"p":3,"s":"BN","t":170,"v":9},{"p":3,"s":"BN","t":175,"v":6},{"p":3,"s":"BN","t":180,"v":10},{"p":3,"s":"BN","t":185,"v":8},{"p":3,"s":"BN","t":190,"v":11},{"p":3,"s":"BN","t":195,"v":7},{"p":3,"s":"BN","t":200,"v":9},
{"p":3,"s":"BN","t":210,"v":6},{"p":3,"s":"BN","t":220,"v":10},{"p":3,"s":"BN","t":230,"v":8},{"p":3,"s":"BN","t":240,"v":11},{"p":3,"s":"BN","t":250,"v":7},{"p":3,"s":"BN","t":260,"v":9},{"p":3,"s":"BN","t":270,"v":5},{"p":3,"s":"BN","t":280,"v":8},{"p":3,"s":"BN","t":290,"v":10},{"p":3,"s":"BN","t":300,"v":6},{"p":3,"s":"BN","t":310,"v":9},{"p":3,"s":"BN","t":320,"v":7},{"p":3,"s":"BN","t":330,"v":10},{"p":3,"s":"BN","t":340,"v":5},{"p":3,"s":"BN","t":350,"v":8},{"p":3,"s":"BN","t":360,"v":6},{"p":3,"s":"BN","t":370,"v":9},{"p":3,"s":"BN","t":380,"v":4},{"p":3,"s":"BN","t":390,"v":7},{"p":3,"s":"BN","t":400,"v":5},{"p":3,"s":"BN","t":410,"v":8},{"p":3,"s":"BN","t":420,"v":6},{"p":3,"s":"BN","t":430,"v":9},{"p":3,"s":"BN","t":440,"v":4},{"p":3,"s":"BN","t":450,"v":7},{"p":3,"s":"BN","t":460,"v":5},{"p":3,"s":"BN","t":470,"v":8},{"p":3,"s":"BN","t":480,"v":3},{"p":3,"s":"BN","t":490,"v":6},{"p":3,"s":"BN","t":500,"v":5},
{"p":3,"s":"BN","t":515,"v":7},{"p":3,"s":"BN","t":530,"v":3},{"p":3,"s":"BN","t":545,"v":6},{"p":3,"s":"BN","t":560,"v":4},{"p":3,"s":"BN","t":575,"v":2},{"p":3,"s":"BN","t":590,"v":5},{"p":3,"s":"BN","t":605,"v":3},{"p":3,"s":"BN","t":620,"v":7},{"p":3,"s":"BN","t":635,"v":4},{"p":3,"s":"BN","t":650,"v":6},{"p":3,"s":"BN","t":665,"v":2},{"p":3,"s":"BN","t":680,"v":5},{"p":3,"s":"BN","t":695,"v":3},{"p":3,"s":"BN","t":710,"v":6},{"p":3,"s":"BN","t":725,"v":4},{"p":3,"s":"BN","t":740,"v":2},{"p":3,"s":"BN","t":755,"v":5},{"p":3,"s":"BN","t":770,"v":7},{"p":3,"s":"BN","t":785,"v":3},{"p":3,"s":"BN","t":800,"v":5},{"p":3,"s":"BN","t":815,"v":2},{"p":3,"s":"BN","t":830,"v":6},{"p":3,"s":"BN","t":845,"v":4},{"p":3,"s":"BN","t":860,"v":7},{"p":3,"s":"BN","t":875,"v":3},{"p":3,"s":"BN","t":890,"v":5},{"p":3,"s":"BN","t":905,"v":2},{"p":3,"s":"BN","t":920,"v":6},{"p":3,"s":"BN","t":935,"v":4},{"p":3,"s":"BN","t":950,"v":8},{"p":3,"s":"BN","t":965,"v":3},{"p":3,"s":"BN","t":980,"v":5},{"p":3,"s":"BN","t":1000,"v":4},
{"p":3,"s":"BH","t":1,"v":1.5},{"p":3,"s":"BH","t":2,"v":4},{"p":3,"s":"BH","t":3,"v":4.5},{"p":3,"s":"BH","t":4,"v":5},{"p":3,"s":"BH","t":5,"v":9},{"p":3,"s":"BH","t":6,"v":7},{"p":3,"s":"BH","t":7,"v":8},{"p":3,"s":"BH","t":8,"v":9},{"p":3,"s":"BH","t":9,"v":14},{"p":3,"s":"BH","t":10,"v":12},{"p":3,"s":"BH","t":11,"v":7},{"p":3,"s":"BH","t":12,"v":11},{"p":3,"s":"BH","t":13,"v":12.5},{"p":3,"s":"BH","t":14,"v":14.5},{"p":3,"s":"BH","t":15,"v":26},{"p":3,"s":"BH","t":16,"v":18},{"p":3,"s":"BH","t":17,"v":12},{"p":3,"s":"BH","t":18,"v":16},{"p":3,"s":"BH","t":19,"v":15},{"p":3,"s":"BH","t":20,"v":20},
{"p":3,"s":"BH","t":22,"v":18},{"p":3,"s":"BH","t":24,"v":21},{"p":3,"s":"BH","t":26,"v":19},{"p":3,"s":"BH","t":28,"v":22},{"p":3,"s":"BH","t":30,"v":21},{"p":3,"s":"BH","t":32,"v":24},{"p":3,"s":"BH","t":34,"v":26},{"p":3,"s":"BH","t":36,"v":29},{"p":3,"s":"BH","t":38,"v":31},{"p":3,"s":"BH","t":40,"v":28},{"p":3,"s":"BH","t":42,"v":33},{"p":3,"s":"BH","t":44,"v":22},{"p":3,"s":"BH","t":46,"v":15},{"p":3,"s":"BH","t":48,"v":13},{"p":3,"s":"BH","t":50,"v":27},
{"p":3,"s":"BH","t":53,"v":29},{"p":3,"s":"BH","t":56,"v":24},{"p":3,"s":"BH","t":59,"v":33},{"p":3,"s":"BH","t":62,"v":34},{"p":3,"s":"BH","t":65,"v":28},{"p":3,"s":"BH","t":68,"v":22},{"p":3,"s":"BH","t":71,"v":30},{"p":3,"s":"BH","t":74,"v":27},{"p":3,"s":"BH","t":77,"v":31},{"p":3,"s":"BH","t":80,"v":25},{"p":3,"s":"BH","t":83,"v":33},{"p":3,"s":"BH","t":86,"v":29},{"p":3,"s":"BH","t":89,"v":35},{"p":3,"s":"BH","t":92,"v":34},{"p":3,"s":"BH","t":95,"v":30},{"p":3,"s":"BH","t":98,"v":37},
{"p":3,"s":"BH","t":100,"v":34},{"p":3,"s":"BH","t":105,"v":31},{"p":3,"s":"BH","t":110,"v":37},{"p":3,"s":"BH","t":115,"v":33},{"p":3,"s":"BH","t":120,"v":36},{"p":3,"s":"BH","t":125,"v":24},{"p":3,"s":"BH","t":130,"v":38},{"p":3,"s":"BH","t":135,"v":33},{"p":3,"s":"BH","t":140,"v":43},{"p":3,"s":"BH","t":145,"v":30},{"p":3,"s":"BH","t":150,"v":37},{"p":3,"s":"BH","t":155,"v":32},{"p":3,"s":"BH","t":160,"v":40},{"p":3,"s":"BH","t":165,"v":35},{"p":3,"s":"BH","t":170,"v":42},{"p":3,"s":"BH","t":175,"v":31},{"p":3,"s":"BH","t":180,"v":38},{"p":3,"s":"BH","t":185,"v":34},{"p":3,"s":"BH","t":190,"v":43},{"p":3,"s":"BH","t":195,"v":32},{"p":3,"s":"BH","t":200,"v":39},
{"p":3,"s":"BH","t":210,"v":35},{"p":3,"s":"BH","t":220,"v":44},{"p":3,"s":"BH","t":230,"v":33},{"p":3,"s":"BH","t":240,"v":40},{"p":3,"s":"BH","t":250,"v":36},{"p":3,"s":"BH","t":260,"v":45},{"p":3,"s":"BH","t":270,"v":31},{"p":3,"s":"BH","t":280,"v":41},{"p":3,"s":"BH","t":290,"v":34},{"p":3,"s":"BH","t":300,"v":39},{"p":3,"s":"BH","t":310,"v":29},{"p":3,"s":"BH","t":320,"v":42},{"p":3,"s":"BH","t":330,"v":35},{"p":3,"s":"BH","t":340,"v":40},{"p":3,"s":"BH","t":350,"v":30},{"p":3,"s":"BH","t":360,"v":44},{"p":3,"s":"BH","t":370,"v":33},{"p":3,"s":"BH","t":380,"v":38},{"p":3,"s":"BH","t":390,"v":28},{"p":3,"s":"BH","t":400,"v":41},{"p":3,"s":"BH","t":410,"v":32},{"p":3,"s":"BH","t":420,"v":37},{"p":3,"s":"BH","t":430,"v":27},{"p":3,"s":"BH","t":440,"v":43},{"p":3,"s":"BH","t":450,"v":31},{"p":3,"s":"BH","t":460,"v":38},{"p":3,"s":"BH","t":470,"v":29},{"p":3,"s":"BH","t":480,"v":42},{"p":3,"s":"BH","t":490,"v":33},{"p":3,"s":"BH","t":500,"v":36},
{"p":3,"s":"BH","t":515,"v":26},{"p":3,"s":"BH","t":530,"v":40},{"p":3,"s":"BH","t":545,"v":30},{"p":3,"s":"BH","t":560,"v":35},{"p":3,"s":"BH","t":575,"v":25},{"p":3,"s":"BH","t":590,"v":43},{"p":3,"s":"BH","t":605,"v":32},{"p":3,"s":"BH","t":620,"v":54},{"p":3,"s":"BH","t":635,"v":30},{"p":3,"s":"BH","t":650,"v":38},{"p":3,"s":"BH","t":665,"v":24},{"p":3,"s":"BH","t":680,"v":40},{"p":3,"s":"BH","t":695,"v":22},{"p":3,"s":"BH","t":710,"v":36},{"p":3,"s":"BH","t":725,"v":29},{"p":3,"s":"BH","t":740,"v":41},{"p":3,"s":"BH","t":755,"v":27},{"p":3,"s":"BH","t":770,"v":36},{"p":3,"s":"BH","t":785,"v":24},{"p":3,"s":"BH","t":800,"v":39},{"p":3,"s":"BH","t":815,"v":30},{"p":3,"s":"BH","t":830,"v":42},{"p":3,"s":"BH","t":845,"v":26},{"p":3,"s":"BH","t":860,"v":37},{"p":3,"s":"BH","t":875,"v":23},{"p":3,"s":"BH","t":890,"v":43},{"p":3,"s":"BH","t":905,"v":28},{"p":3,"s":"BH","t":920,"v":38},{"p":3,"s":"BH","t":935,"v":25},{"p":3,"s":"BH","t":950,"v":40},{"p":3,"s":"BH","t":965,"v":30},{"p":3,"s":"BH","t":980,"v":36},{"p":3,"s":"BH","t":1000,"v":33}
],
"ann": [
{"p":1,"t":1.326,"v":59.1,"txt":"T=2000K"},{"p":1,"t":317.5,"v":54.5,"txt":"H"},{"p":1,"t":102,"v":16.5,"txt":"NH"},{"p":1,"t":461,"v":12.5,"txt":"N"},
{"p":2,"t":1.326,"v":68.0,"txt":"T=2500K"},{"p":2,"t":249.4,"v":67.0,"txt":"H"},{"p":2,"t":375,"v":29.7,"txt":"N"},{"p":2,"t":123,"v":10.25,"txt":"NH"},{"p":2,"t":587,"v":9.7,"txt":"BN"},
{"p":3,"t":1.326,"v":116.9,"txt":"T=6000K"},{"p":3,"t":4.40,"v":47.0,"txt":"H"},{"p":3,"t":215,"v":120.2,"txt":"N"},{"p":3,"t":23.0,"v":21.7,"txt":"BH"},{"p":3,"t":188.6,"v":11.2,"txt":"BN"},{"p":3,"t":22.6,"v":-18,"txt":"NH"}
],
"sub": [
{"p":1,"t":317.5,"v":54.5},{"p":1,"t":461,"v":12.5},
{"p":2,"t":249.4,"v":67.0},{"p":2,"t":375,"v":29.7},
{"p":3,"t":4.40,"v":47.0},{"p":3,"t":215,"v":120.2}
],
"exps": [
{"t":1,"e":"0"},{"t":10,"e":"1"},{"t":100,"e":"2"},{"t":1000,"e":"3"}
],
"arr": [
{"id":"a1","t":167.3,"v":13.4,"t2":266,"v2":0.5},
{"id":"a2","t":209,"v":12.3,"t2":345.5,"v2":3.6},
{"id":"a3","t":713,"v":7.7,"t2":474,"v2":1.8},
{"id":"a4","t":22.4,"v":-8.1,"t2":17.0,"v2":3.8}
]
},
"vconcat": [
{
 "width": 619, "height": 258,
 "layer": [
  {"data": {"name": "lines"}, "transform": [{"filter": "datum.p === 1 && datum.s !== 'BN' && datum.s !== 'BH'"}],
   "mark": {"type": "line", "strokeWidth": 3, "strokeJoin": "round"},
   "encoding": {
    "x": {"field": "t", "type": "quantitative", "scale": {"type": "log", "domain": [1, 1000], "nice": false},
      "axis": {"title": null, "labels": false, "values": [1,2,3,4,5,6,7,8,9,10,20,30,40,50,60,70,80,90,100,200,300,400,500,600,700,800,900,1000],
        "tickSize": {"condition": {"test": "indexof([1,10,100,1000], datum.value) >= 0", "value": -18}, "value": -9}}},
    "y": {"field": "v", "type": "quantitative", "scale": {"domain": [0, 70], "nice": false, "zero": false},
      "axis": {"title": null, "values": [0,10,20,30,40,50,60], "labelExpr": "datum.value > 0 && datum.value % 20 === 0 ? datum.label : ''",
        "tickSize": {"condition": {"test": "datum.value % 20 === 0", "value": -16}, "value": -7}, "labelPadding": 34, "labelOffset": 4}},
    "color": {"field": "s", "type": "nominal", "scale": {"domain": ["H2","N2","NH","BN","BH"], "range": ["#2aae1c","#2b4af0","#1b2fae","#ff7a2a","#6e0b0b"]}, "legend": null}
   }},
  {"data": {"values": [{}]},
   "mark": {"type": "rule", "strokeWidth": 1.5, "color": "black"},
   "encoding": {"x": {"datum": 1000, "type": "quantitative"}, "y": {"datum": 0, "type": "quantitative"}, "y2": {"datum": 70}}},
  {"data": {"values": [{}]},
   "mark": {"type": "rule", "strokeWidth": 1.5, "color": "black"},
   "encoding": {"x": {"datum": 1, "type": "quantitative"}, "x2": {"datum": 1000}, "y": {"datum": 70, "type": "quantitative"}}},
  {"data": {"name": "ann"}, "transform": [{"filter": "datum.p === 1"}],
   "mark": {"type": "text", "align": "left", "baseline": "alphabetic", "fontSize": 34, "color": "black"},
   "encoding": {"x": {"field": "t", "type": "quantitative"}, "y": {"field": "v", "type": "quantitative"}, "text": {"field": "txt"}}},
  {"data": {"name": "sub"}, "transform": [{"filter": "datum.p === 1"}],
   "mark": {"type": "text", "align": "left", "baseline": "alphabetic", "fontSize": 25, "color": "black", "dx": 23, "dy": 8, "text": "2"},
   "encoding": {"x": {"field": "t", "type": "quantitative"}, "y": {"field": "v", "type": "quantitative"}}},
  {"data": {"name": "arr"}, "transform": [{"filter": "datum.id === 'a1'"}],
   "mark": {"type": "rule", "strokeWidth": 1.8, "color": "black"},
   "encoding": {"x": {"field": "t", "type": "quantitative"}, "y": {"field": "v", "type": "quantitative"}, "x2": {"field": "t2"}, "y2": {"field": "v2"}}},
  {"data": {"name": "arr"}, "transform": [{"filter": "datum.id === 'a1'"}],
   "mark": {"type": "point", "shape": "M0,0L-0.4,1.4L0.4,1.4Z", "filled": true, "color": "black", "opacity": 1, "size": 484, "angle": 139},
   "encoding": {"x": {"field": "t2", "type": "quantitative"}, "y": {"field": "v2", "type": "quantitative"}}}
 ]
},
{
 "width": 619, "height": 260,
 "layer": [
  {"data": {"name": "lines"}, "transform": [{"filter": "datum.p === 2 && datum.s !== 'BN' && datum.s !== 'BH'"}],
   "mark": {"type": "line", "strokeWidth": 3, "strokeJoin": "round"},
   "encoding": {
    "x": {"field": "t", "type": "quantitative", "scale": {"type": "log", "domain": [1, 1000], "nice": false},
      "axis": {"title": null, "labels": false, "values": [1,2,3,4,5,6,7,8,9,10,20,30,40,50,60,70,80,90,100,200,300,400,500,600,700,800,900,1000],
        "tickSize": {"condition": {"test": "indexof([1,10,100,1000], datum.value) >= 0", "value": -18}, "value": -9}}},
    "y": {"field": "v", "type": "quantitative", "scale": {"domain": [0, 80], "nice": false, "zero": false},
      "axis": {"title": "Number of dimers", "titleX": -78, "titleY": 119, "titleAngle": 270, "titleBaseline": "alphabetic", "titleAlign": "center",
        "values": [0,10,20,30,40,50,60,70,80], "labelExpr": "datum.value > 0 && datum.value % 20 === 0 ? datum.label : ''",
        "tickSize": {"condition": {"test": "datum.value % 20 === 0", "value": -16}, "value": -7}, "labelPadding": 34, "labelOffset": 4}},
    "color": {"field": "s", "type": "nominal", "scale": {"domain": ["H2","N2","NH","BN","BH"], "range": ["#2aae1c","#2b4af0","#1b2fae","#ff7a2a","#6e0b0b"]}, "legend": null}
   }},
  {"data": {"name": "lines"}, "transform": [{"filter": "datum.p === 2 && datum.s === 'BN'"}],
   "mark": {"type": "line", "strokeWidth": 3, "strokeJoin": "round"},
   "encoding": {"x": {"field": "t", "type": "quantitative"}, "y": {"field": "v", "type": "quantitative"}, "color": {"field": "s", "type": "nominal", "legend": null}}},
  {"data": {"values": [{}]},
   "mark": {"type": "rule", "strokeWidth": 1.5, "color": "black"},
   "encoding": {"x": {"datum": 1000, "type": "quantitative"}, "y": {"datum": 0, "type": "quantitative"}, "y2": {"datum": 80}}},
  {"data": {"name": "ann"}, "transform": [{"filter": "datum.p === 2"}],
   "mark": {"type": "text", "align": "left", "baseline": "alphabetic", "fontSize": 34, "color": "black"},
   "encoding": {"x": {"field": "t", "type": "quantitative"}, "y": {"field": "v", "type": "quantitative"}, "text": {"field": "txt"}}},
  {"data": {"name": "sub"}, "transform": [{"filter": "datum.p === 2"}],
   "mark": {"type": "text", "align": "left", "baseline": "alphabetic", "fontSize": 25, "color": "black", "dx": 23, "dy": 8, "text": "2"},
   "encoding": {"x": {"field": "t", "type": "quantitative"}, "y": {"field": "v", "type": "quantitative"}}},
  {"data": {"name": "arr"}, "transform": [{"filter": "datum.id === 'a2' || datum.id === 'a3'"}],
   "mark": {"type": "rule", "strokeWidth": 1.8, "color": "black"},
   "encoding": {"x": {"field": "t", "type": "quantitative"}, "y": {"field": "v", "type": "quantitative"}, "x2": {"field": "t2"}, "y2": {"field": "v2"}}},
  {"data": {"name": "arr"}, "transform": [{"filter": "datum.id === 'a2'"}],
   "mark": {"type": "point", "shape": "M0,0L-0.4,1.4L0.4,1.4Z", "filled": true, "color": "black", "opacity": 1, "size": 484, "angle": 122},
   "encoding": {"x": {"field": "t2", "type": "quantitative"}, "y": {"field": "v2", "type": "quantitative"}}},
  {"data": {"name": "arr"}, "transform": [{"filter": "datum.id === 'a3'"}],
   "mark": {"type": "point", "shape": "M0,0L-0.4,1.4L0.4,1.4Z", "filled": true, "color": "black", "opacity": 1, "size": 484, "angle": 243},
   "encoding": {"x": {"field": "t2", "type": "quantitative"}, "y": {"field": "v2", "type": "quantitative"}}}
 ]
},
{
 "width": 619, "height": 259,
 "layer": [
  {"data": {"name": "lines"}, "transform": [{"filter": "datum.p === 3 && datum.s !== 'BN' && datum.s !== 'BH'"}],
   "mark": {"type": "line", "strokeWidth": 3, "strokeJoin": "round"},
   "encoding": {
    "x": {"field": "t", "type": "quantitative", "scale": {"type": "log", "domain": [1, 1000], "nice": false},
      "axis": {"title": "Time (ps)", "titlePadding": 6, "values": [1,2,3,4,5,6,7,8,9,10,20,30,40,50,60,70,80,90,100,200,300,400,500,600,700,800,900,1000],
        "labelExpr": "indexof([1,10,100,1000], datum.value) >= 0 ? '10' : ''",
        "labelPadding": 45, "labelOffset": -10,
        "tickSize": {"condition": {"test": "indexof([1,10,100,1000], datum.value) >= 0", "value": -18}, "value": -9}}},
    "y": {"field": "v", "type": "quantitative", "scale": {"domain": [0, 140], "nice": false, "zero": false},
      "axis": {"title": null, "values": [0,10,20,30,40,50,60,70,80,90,100,110,120,130,140], "labelExpr": "datum.value % 20 === 0 ? datum.label : ''",
        "tickSize": {"condition": {"test": "datum.value % 20 === 0", "value": -16}, "value": -7}, "labelPadding": 34, "labelOffset": 4}},
    "color": {"field": "s", "type": "nominal", "scale": {"domain": ["H2","N2","NH","BN","BH"], "range": ["#2aae1c","#2b4af0","#1b2fae","#ff7a2a","#6e0b0b"]}, "legend": null}
   }},
  {"data": {"name": "lines"}, "transform": [{"filter": "datum.p === 3 && datum.s === 'BN'"}],
   "mark": {"type": "line", "strokeWidth": 3, "strokeJoin": "round"},
   "encoding": {"x": {"field": "t", "type": "quantitative"}, "y": {"field": "v", "type": "quantitative"}, "color": {"field": "s", "type": "nominal", "legend": null}}},
  {"data": {"name": "lines"}, "transform": [{"filter": "datum.p === 3 && datum.s === 'BH'"}],
   "mark": {"type": "line", "strokeWidth": 3, "strokeJoin": "round"},
   "encoding": {"x": {"field": "t", "type": "quantitative"}, "y": {"field": "v", "type": "quantitative"}, "color": {"field": "s", "type": "nominal", "legend": null}}},
  {"data": {"values": [{}]},
   "mark": {"type": "rule", "strokeWidth": 1.5, "color": "black"},
   "encoding": {"x": {"datum": 1000, "type": "quantitative"}, "y": {"datum": 0, "type": "quantitative"}, "y2": {"datum": 140}}},
  {"data": {"name": "exps"},
   "mark": {"type": "text", "align": "left", "baseline": "alphabetic", "fontSize": 25, "color": "black", "dx": 8},
   "encoding": {"x": {"field": "t", "type": "quantitative"}, "y": {"datum": -22.6, "type": "quantitative"}, "text": {"field": "e"}}},
  {"data": {"name": "ann"}, "transform": [{"filter": "datum.p === 3"}],
   "mark": {"type": "text", "align": "left", "baseline": "alphabetic", "fontSize": 34, "color": "black"},
   "encoding": {"x": {"field": "t", "type": "quantitative"}, "y": {"field": "v", "type": "quantitative"}, "text": {"field": "txt"}}},
  {"data": {"name": "sub"}, "transform": [{"filter": "datum.p === 3"}],
   "mark": {"type": "text", "align": "left", "baseline": "alphabetic", "fontSize": 25, "color": "black", "dx": 23, "dy": 8, "text": "2"},
   "encoding": {"x": {"field": "t", "type": "quantitative"}, "y": {"field": "v", "type": "quantitative"}}},
  {"data": {"name": "arr"}, "transform": [{"filter": "datum.id === 'a4'"}],
   "mark": {"type": "rule", "strokeWidth": 1.8, "color": "black"},
   "encoding": {"x": {"field": "t", "type": "quantitative"}, "y": {"field": "v", "type": "quantitative"}, "x2": {"field": "t2"}, "y2": {"field": "v2"}}},
  {"data": {"name": "arr"}, "transform": [{"filter": "datum.id === 'a4'"}],
   "mark": {"type": "point", "shape": "M0,0L-0.4,1.4L0.4,1.4Z", "filled": true, "color": "black", "opacity": 1, "size": 484, "angle": 312},
   "encoding": {"x": {"field": "t2", "type": "quantitative"}, "y": {"field": "v2", "type": "quantitative"}}}
 ]
}
]
}
